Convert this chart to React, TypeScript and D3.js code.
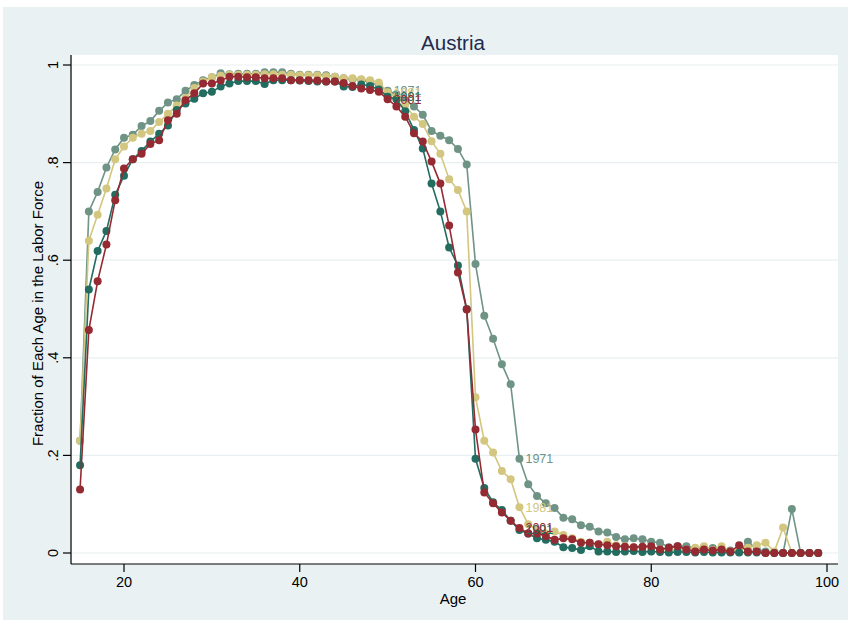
import React from "react";
import * as d3 from "d3";

// ages 15..99, one value per age
const ages = d3.range(15, 100);

const y1971 = [
  0.23, 0.70, 0.74, 0.79, 0.827, 0.851, 0.857, 0.875, 0.885, 0.906,
  0.923, 0.93, 0.947, 0.959, 0.969, 0.975, 0.983, 0.981, 0.982, 0.982,
  0.982, 0.985, 0.985, 0.985, 0.982, 0.98, 0.98, 0.98, 0.979, 0.976,
  0.973, 0.971, 0.97, 0.964, 0.958, 0.947, 0.94, 0.928, 0.915, 0.898,
  0.865, 0.855, 0.846, 0.828, 0.796, 0.592, 0.486, 0.439, 0.387, 0.346,
  0.193, 0.141, 0.117, 0.102, 0.092, 0.072, 0.069, 0.057, 0.054, 0.044,
  0.042, 0.033, 0.028, 0.03, 0.028, 0.023, 0.021, 0.012, 0.014, 0.014,
  0.009, 0.008, 0.01, 0.003, 0.005, 0.003, 0.023, 0.008, 0.003, 0.002,
  0.0, 0.09, 0.0, 0.0, 0.0,
];

const y1981 = [
  0.23, 0.64, 0.693, 0.747, 0.807, 0.833, 0.851, 0.859, 0.865, 0.883,
  0.9, 0.917, 0.932, 0.953, 0.966, 0.975, 0.978, 0.98, 0.98, 0.98,
  0.98, 0.981, 0.981, 0.98, 0.98, 0.979, 0.979, 0.979, 0.977, 0.976,
  0.973, 0.973, 0.971, 0.969, 0.964, 0.944, 0.935, 0.918, 0.894, 0.879,
  0.844, 0.818, 0.766, 0.744, 0.7, 0.319, 0.23, 0.206, 0.168, 0.151,
  0.094, 0.059, 0.047, 0.04, 0.044, 0.037, 0.03, 0.023, 0.021, 0.018,
  0.023, 0.016, 0.014, 0.012, 0.012, 0.012, 0.007, 0.007, 0.006, 0.007,
  0.011, 0.014, 0.006, 0.014, 0.003, 0.007, 0.011, 0.016, 0.021, 0.003,
  0.052, 0.0, 0.0, 0.0, 0.0,
];

const y1991 = [
  0.18, 0.54, 0.619, 0.66, 0.734, 0.773, 0.807, 0.824, 0.843, 0.859,
  0.876, 0.908, 0.921, 0.931, 0.942, 0.945, 0.956, 0.962, 0.967, 0.967,
  0.967, 0.961, 0.969, 0.969, 0.969, 0.968, 0.967, 0.966, 0.966, 0.966,
  0.956, 0.955, 0.96, 0.957, 0.95, 0.935, 0.93, 0.905, 0.867, 0.829,
  0.757, 0.7, 0.626, 0.589, 0.5, 0.193, 0.133, 0.104, 0.088, 0.066,
  0.047, 0.04, 0.03, 0.027, 0.023, 0.012, 0.01, 0.006, 0.014, 0.003,
  0.003, 0.002, 0.003, 0.004, 0.002, 0.003, 0.002, 0.001, 0.002, 0.002,
  0.001, 0.002, 0.001, 0.001, 0.001, 0.001, 0.001, 0.001, 0.0, 0.0,
  0.0, 0.0, 0.0, 0.0, 0.0,
];

const y2001 = [
  0.13, 0.457, 0.557, 0.632, 0.723, 0.788, 0.807, 0.818, 0.838, 0.846,
  0.887, 0.9, 0.928, 0.942, 0.962, 0.962, 0.968, 0.976, 0.976, 0.975,
  0.975, 0.973, 0.973, 0.973, 0.969, 0.969, 0.969, 0.968, 0.966, 0.966,
  0.963, 0.957, 0.952, 0.949, 0.945, 0.93, 0.915, 0.894, 0.86, 0.843,
  0.802, 0.757, 0.671, 0.575, 0.499, 0.253, 0.124, 0.102, 0.083, 0.066,
  0.051, 0.04, 0.04, 0.035, 0.027, 0.03, 0.028, 0.021, 0.021, 0.018,
  0.016, 0.014, 0.013, 0.012, 0.013, 0.014, 0.007, 0.011, 0.014, 0.007,
  0.003, 0.007, 0.005, 0.007, 0.003, 0.016, 0.003, 0.003, 0.0, 0.0,
  0.0, 0.0, 0.0, 0.0, 0.0,
];

const seriesNames = ["1971", "1981", "1991", "2001"];
const seriesValues = [y1971, y1981, y1991, y2001];
const seriesColors = ["#6f9485", "#d3c67f", "#226c60", "#952a32"];
const labelAges = [50, 65];

const xTicks = [20, 40, 60, 80, 100];
const yTicks = [0, 0.2, 0.4, 0.6, 0.8, 1];
const yTickLabels = ["0", ".2", ".4", ".6", ".8", "1"];

const W = 851;
const H = 625;
const plot = { left: 72, right: 838, top: 55, bottom: 564 };
const font = "'Liberation Sans', Arial, sans-serif";

export default function App() {
  const x = d3.scaleLinear().domain([20, 100]).range([124, 827]);
  const y = d3.scaleLinear().domain([0, 1]).range([553, 65]);

  const line = d3
    .line<number>()
    .x((_, i) => x(ages[i]))
    .y((d) => y(d));

  return (
    <svg
      width={W}
      height={H}
      style={{ position: "absolute", left: 0, top: 0, background: "#fff" }}
    >
      <rect x={3} y={7} width={845} height={613} fill="#eaf1f3" />
      <rect
        x={plot.left}
        y={plot.top}
        width={plot.right - plot.left}
        height={plot.bottom - plot.top}
        fill="#ffffff"
      />
      {/* gridlines */}
      {yTicks.map((t) => (
        <line
          key={"g" + t}
          x1={plot.left}
          x2={plot.right}
          y1={y(t)}
          y2={y(t)}
          stroke="#e8eff1"
          strokeWidth={1.2}
        />
      ))}

      {/* series */}
      {seriesValues.map((vals, s) => (
        <g key={seriesNames[s]}>
          <path
            d={line(vals) || ""}
            fill="none"
            stroke={seriesColors[s]}
            strokeWidth={1.6}
          />
          {vals.map((v, i) => (
            <circle
              key={i}
              cx={x(ages[i])}
              cy={y(v)}
              r={4}
              fill={seriesColors[s]}
            />
          ))}
        </g>
      ))}

      {/* point labels */}
      {seriesValues.map((vals, s) =>
        labelAges.map((a) => (
          <text
            key={seriesNames[s] + a}
            x={x(a) + 6}
            y={y(vals[ages.indexOf(a)])}
            dy="0.35em"
            fontFamily={font}
            fontSize={12.5}
            fill={seriesColors[s]}
          >
            {seriesNames[s]}
          </text>
        ))
      )}

      {/* axes */}
      <line x1={71} x2={71} y1={plot.top} y2={plot.bottom} stroke="#000" strokeWidth={1.2} />
      <line x1={71} x2={plot.right} y1={plot.bottom} y2={plot.bottom} stroke="#000" strokeWidth={1.2} />
      {yTicks.map((t, i) => (
        <g key={"yt" + t}>
          <line x1={63} x2={71} y1={y(t)} y2={y(t)} stroke="#000" strokeWidth={1.2} />
          <text
            transform={`translate(58,${y(t)}) rotate(-90)`}
            textAnchor="middle"
            fontFamily={font}
            fontSize={14.5}
            fill="#000"
          >
            {yTickLabels[i]}
          </text>
        </g>
      ))}
      {xTicks.map((t) => (
        <g key={"xt" + t}>
          <line x1={x(t)} x2={x(t)} y1={plot.bottom} y2={plot.bottom + 8} stroke="#000" strokeWidth={1.2} />
          <text
            x={x(t)}
            y={plot.bottom + 23}
            textAnchor="middle"
            fontFamily={font}
            fontSize={14.5}
            fill="#000"
          >
            {t}
          </text>
        </g>
      ))}
      <text
        x={(plot.left + plot.right) / 2 - 2}
        y={604}
        textAnchor="middle"
        fontFamily={font}
        fontSize={15}
        fill="#000"
      >
        Age
      </text>
      <text
        transform={`translate(43,${(plot.top + plot.bottom) / 2 + 4}) rotate(-90)`}
        textAnchor="middle"
        fontFamily={font}
        fontSize={15}
        fill="#000"
      >
        Fraction of Each Age in the Labor Force
      </text>
      <text
        x={453}
        y={50}
        textAnchor="middle"
        fontFamily={font}
        fontSize={20.5}
        fill="#1e2b4e"
      >
        Austria
      </text>
    </svg>
  );
}
